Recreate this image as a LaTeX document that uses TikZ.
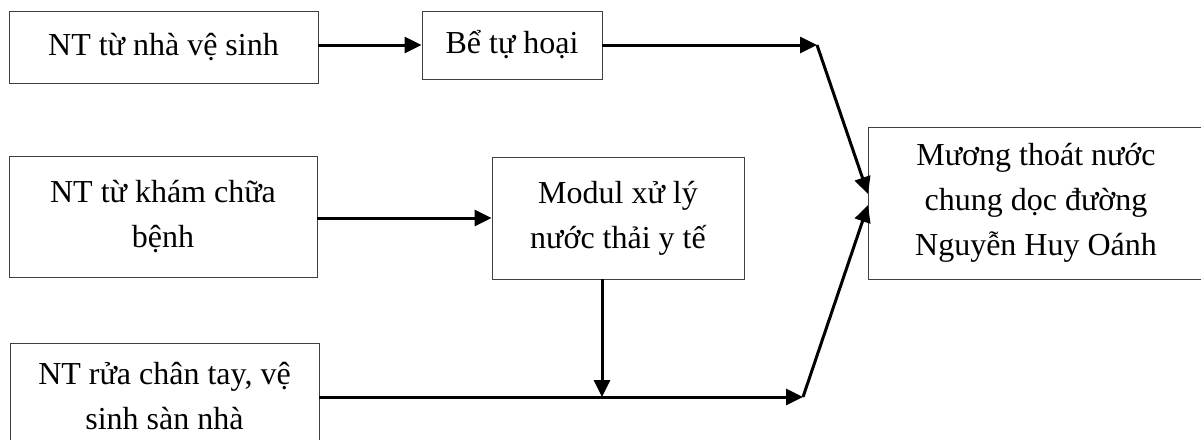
\documentclass[tikz,border=0pt]{standalone}
\usepackage{fontspec}
\setmainfont{Liberation Serif}
\usetikzlibrary{arrows.meta}
\begin{document}
\begin{tikzpicture}[x=1pt,y=-1pt,
  box/.style={draw=black!75, line width=0.9pt, align=center, inner sep=0pt,
    font=\fontsize{32}{45}\selectfont},
  flow/.style={line width=3pt, -{Triangle[length=17pt,width=16pt]}}]
\useasboundingbox (0,0) rectangle (1201,439);
\clip (0,0) rectangle (1201,439);

% sources and treatment units
\node[box, minimum width=309pt, minimum height=72pt]  (wc)    at (163.5,47)   {NT từ nhà vệ sinh};
\node[box, minimum width=180pt, minimum height=68pt]  (tank)  at (512,45)     {Bể tự hoại};
\node[box, minimum width=308pt, minimum height=121pt] (clinic) at (163,216.5) {NT từ khám chữa\\bệnh};
\node[box, minimum width=252pt, minimum height=122pt] (modul) at (618,218)    {Modul xử lý\\nước thải y tế};
\node[box, minimum width=309pt, minimum height=107pt] (wash)  at (164.5,396.5) {NT rửa chân tay, vệ\\sinh sàn nhà};
% receiving ditch, running past the right edge
\node[box, minimum width=336pt, minimum height=152pt] (ditch) at (1036,203)
  {Mương thoát nước\\chung dọc đường\\Nguyễn Huy Oánh};

% junction points
\coordinate (j1) at (817,45);
\coordinate (j2) at (803,397);
\coordinate (drop) at (602,397);
\coordinate (in1) at (868,194);
\coordinate (in2) at (868,205);

% connectors
\draw[flow] (wc.east |- tank.west) -- (tank.west);
\draw[flow] (tank.east) -- (j1);
\draw[flow] (j1) -- (in1);
\draw[flow] (clinic.east |- modul.west) -- (modul.west);
\draw[flow] (modul.south -| drop) -- (drop);
\draw[flow] (wash.east |- j2) -- (j2);
\draw[flow] (j2) -- (in2);
\end{tikzpicture}
\end{document}
